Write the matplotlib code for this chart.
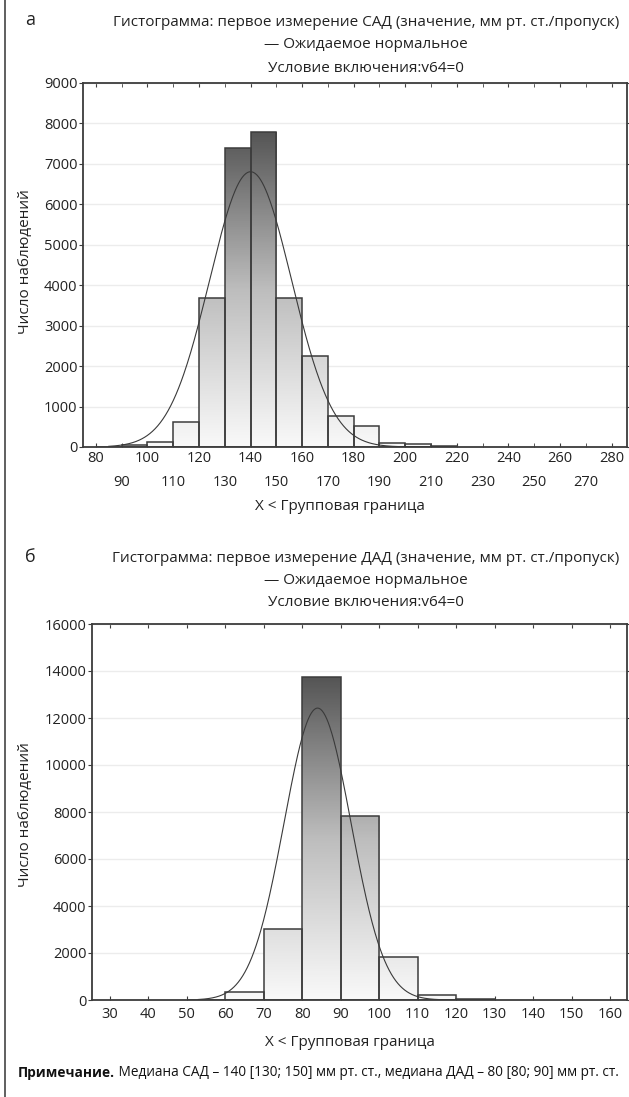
import numpy as np
import matplotlib
matplotlib.use("Agg")
import matplotlib.pyplot as plt
from matplotlib.colors import LinearSegmentedColormap
from matplotlib.lines import Line2D

plt.rcParams['font.family'] = ['Open Sans', 'DejaVu Sans']

# --- data ---
sad_bins = [80, 90, 100, 110, 120, 130, 140, 150, 160, 170, 180, 190, 200, 210]
sad_counts = [10, 40, 120, 630, 3680, 7390, 7800, 3680, 2260, 775, 520, 110, 85, 25]
sad_mean, sad_sd = 140, 15.9
sad_curve_range = (85, 220)

dad_bins = [50, 60, 70, 80, 90, 100, 110, 120]
dad_counts = [20, 360, 3040, 13760, 7850, 1830, 210, 50]
dad_mean, dad_sd = 84, 8.71
dad_curve_range = (53, 130)

bin_width = 10

sad_xticks = list(range(80, 281, 10))
sad_yticks = list(range(0, 9001, 1000))
dad_xticks = list(range(30, 161, 10))
dad_yticks = list(range(0, 16001, 2000))

titles_a = ["Гистограмма: первое измерение САД (значение, мм рт. ст./пропуск)",
            "— Ожидаемое нормальное",
            "Условие включения:v64=0"]
titles_b = ["Гистограмма: первое измерение ДАД (значение, мм рт. ст./пропуск)",
            "— Ожидаемое нормальное",
            "Условие включения:v64=0"]
ylab = "Число наблюдений"
xlab = "X < Групповая граница"
note_bold = "Примечание."
note_rest = " Медиана САД – 140 [130; 150] мм рт. ст., медиана ДАД – 80 [80; 90] мм рт. ст."

W, H = 629, 1097
fig = plt.figure(figsize=(W / 100, H / 100), dpi=100)
fig.patch.set_facecolor('white')

grad_cmap = LinearSegmentedColormap.from_list(
    'g', [(0, '#f9f9f9'), (0.5, '#bdbdbd'), (1, '#555555')])

edge = '#3c3c3c'
txt = '#222222'
fs = 11
tfs = 10.5


def px_axes(l, t, r, b):
    return fig.add_axes([l / W, 1 - b / H, (r - l) / W, (b - t) / H])


def draw_hist(ax, bins, counts, mean, sd, crange, xlim, ylim):
    bars = ax.bar(bins, counts, width=bin_width, align='edge',
                  facecolor='none', edgecolor=edge, linewidth=1.1, zorder=3)
    top = max(counts)
    for b, c in zip(bars, counts):
        x0 = b.get_x()
        g = np.linspace(0, c, 200).reshape(-1, 1)
        im = ax.imshow(g, extent=[x0, x0 + bin_width, 0, c], origin='lower',
                       aspect='auto', cmap=grad_cmap, vmin=0, vmax=top, zorder=2)
        im.set_clip_path(b)
    n = sum(counts)
    xs = np.linspace(crange[0], crange[1], 400)
    ys = n * bin_width / (sd * np.sqrt(2 * np.pi)) * np.exp(-0.5 * ((xs - mean) / sd) ** 2)
    ax.plot(xs, ys, color='#3a3a3a', linewidth=0.8, zorder=4)
    ax.set_xlim(*xlim)
    ax.set_ylim(*ylim)
    ax.yaxis.grid(True, color='#ececec', linewidth=1.0, zorder=0)
    ax.set_axisbelow(True)
    for s in ax.spines.values():
        s.set_color(edge)
        s.set_linewidth(1.3)
    ax.tick_params(axis='x', which='both', direction='in', top=True, length=3,
                   color=edge, labelsize=tfs, labelcolor=txt)
    ax.tick_params(axis='y', direction='out', right=True, length=3,
                   color=edge, labelsize=tfs, labelcolor=txt, pad=1)


# --- panel а ---
ax1 = px_axes(83, 83, 627, 447)
draw_hist(ax1, sad_bins, sad_counts, sad_mean, sad_sd, sad_curve_range,
          (75, 286), (0, 9000))
ax1.set_yticks(sad_yticks)
ax1.set_xticks(sad_xticks[::2])
ax1.set_xticks(sad_xticks[1::2], minor=True)
ax1.set_xticklabels([str(v) for v in sad_xticks[::2]])
ax1.set_xticklabels([str(v) for v in sad_xticks[1::2]], minor=True)
ax1.tick_params(axis='x', which='major', pad=3)
ax1.tick_params(axis='x', which='minor', pad=20)

# --- panel б ---
ax2 = px_axes(92, 624, 627, 1000)
draw_hist(ax2, dad_bins, dad_counts, dad_mean, dad_sd, dad_curve_range,
          (25.4, 164.4), (0, 16000))
ax2.set_yticks(dad_yticks)
ax2.set_xticks(dad_xticks)
ax2.tick_params(axis='x', pad=5)

# titles, labels
cx = 366
for i, t in enumerate(titles_a):
    fig.text(cx / W, 1 - (22 + 23 * i) / H, t, ha='center', va='center',
             fontsize=fs, color=txt)
for i, t in enumerate(titles_b):
    fig.text(cx / W, 1 - (559 + 22 * i) / H, t, ha='center', va='center',
             fontsize=fs, color=txt)
fig.text(30 / W, 1 - 20 / H, "а", ha='center', va='center', fontsize=13, color=txt)
fig.text(30 / W, 1 - 557 / H, "б", ha='center', va='center', fontsize=13, color=txt)

fig.text(26 / W, 1 - 262 / H, ylab, rotation=90, ha='center', va='center',
         fontsize=fs, color=txt)
fig.text(26 / W, 1 - 815 / H, ylab, rotation=90, ha='center', va='center',
         fontsize=fs, color=txt)
fig.text(340 / W, 1 - 506 / H, xlab, ha='center', va='center', fontsize=fs, color=txt)
fig.text(350 / W, 1 - 1043 / H, xlab, ha='center', va='center', fontsize=fs, color=txt)

# note line
tb = fig.text(18 / W, 1 - 1073 / H, note_bold, ha='left', va='center',
              fontsize=9.8, fontweight='bold', color='#111111')
fig.canvas.draw()
bb = tb.get_window_extent()
fig.text(bb.x1 / W, 1 - 1073 / H, note_rest, ha='left', va='center',
         fontsize=9.8, color='#111111')

# page border line on the left
fig.add_artist(Line2D([5 / W, 5 / W], [0, 1], color='#444444', linewidth=1.2))

fig.savefig('out.png', dpi=100, facecolor='white')
